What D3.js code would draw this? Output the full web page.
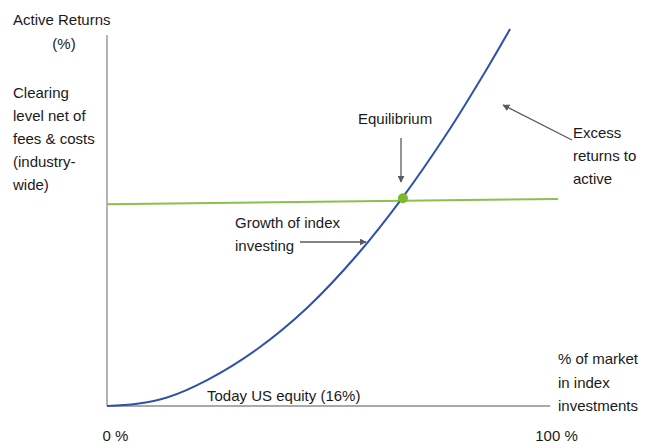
<!DOCTYPE html>
<html><head><meta charset="utf-8">
<script src="https://cdn.jsdelivr.net/npm/d3@7"></script>
<style>
html,body{margin:0;padding:0;background:#fff;}
text{font-family:"Liberation Sans",Arial,sans-serif;font-size:15px;fill:#1a1a1a;}
</style></head><body>
<svg id="c" width="654" height="445"></svg>
<script>
// Data
const curveX = [0, 6.8, 13.6, 22.7, 34.0, 45.4, 56.7, 67.1, 77.1, 86.2, 91.4];   // % of market in index investments
const curveY = [0, 0.6, 2.3, 7.0, 15.3, 26.5, 40.7, 56.3, 73.5, 91.0, 101.6];    // active returns (relative)
const clearingX = [0, 102.3];
const clearingY = [54.4, 55.8];
const equilibrium = [67.1, 56.0];
const xTickValues = [0, 100];
const xTickLabels = ["0 %", "100 %"];
const yTitle = ["Active Returns", "(%)"];
const yNote = ["Clearing", "level net of", "fees & costs", "(industry-", "wide)"];
const xTitle = ["% of market", "in index", "investments"];
const excessLabel = ["Excess", "returns to", "active"];
const growthLabel = ["Growth of index", "investing"];
const equilibriumLabel = "Equilibrium";
const todayLabel = "Today US equity (16%)";

const svg = d3.select("#c");
const x = d3.scaleLinear().domain([0, 100]).range([107, 548]);
const y = d3.scaleLinear().domain([0, 100]).range([406, 35]);

const defs = svg.append("defs");
defs.append("marker").attr("id","ah").attr("viewBox","0 0 10 10").attr("refX",9).attr("refY",5)
  .attr("markerWidth",7).attr("markerHeight",7).attr("markerUnits","userSpaceOnUse").attr("orient","auto")
  .append("path").attr("d","M0,0 L10,5 L0,10 z").attr("fill","#5a5a5a");

// axes
svg.append("line").attr("x1", x(0)).attr("x2", x(0)).attr("y1", y(100)).attr("y2", y(0))
  .attr("stroke","#8c8c8c").attr("stroke-width",1.3);
svg.append("line").attr("x1", x(0)).attr("x2", x(100.5)).attr("y1", y(0)).attr("y2", y(0))
  .attr("stroke","#8c8c8c").attr("stroke-width",1.3);

// tick labels
const xAxis = d3.axisBottom(x).tickValues(xTickValues).tickSize(0).tickFormat((d,i)=>xTickLabels[i]);
const gx = svg.append("g").attr("transform",`translate(0,${y(0)})`).call(xAxis);
gx.select(".domain").remove();
gx.selectAll("text").attr("dy",null).attr("y",35).attr("dx",8)
  .style("font-family","Liberation Sans, Arial, sans-serif").style("font-size","15px").attr("fill","#1a1a1a");

// clearing line
const line = d3.line().x(d=>x(d[0])).y(d=>y(d[1]));
svg.append("path").attr("d", line(d3.zip(clearingX, clearingY)))
  .attr("fill","none").attr("stroke","#8cbf4e").attr("stroke-width",2);

// curve
const curve = d3.line().x(d=>x(d[0])).y(d=>y(d[1])).curve(d3.curveCatmullRom.alpha(0.5));
svg.append("path").attr("d", curve(d3.zip(curveX, curveY)))
  .attr("fill","none").attr("stroke","#2d52ad").attr("stroke-width",2);

// equilibrium dot
svg.append("circle").attr("cx", x(equilibrium[0])).attr("cy", y(equilibrium[1])).attr("r",5)
  .attr("fill","#7cb82a");

// text blocks
function block(lines, xx, y0, dy, anchor){
  const t = svg.append("text").attr("text-anchor", anchor||"start");
  lines.forEach((s,i)=>t.append("tspan").attr("x",xx).attr("y",y0+i*dy).text(s));
}
block([yTitle[0]], 13, 25, 23);
block([yTitle[1]], 64, 49, 23, "middle");
block(yNote, 13, 98, 23);
block(xTitle, 558, 364, 23.5);
block(excessLabel, 573, 138, 23);
block(growthLabel, 235, 228, 22.5);
block([equilibriumLabel], 358, 124, 23);
block([todayLabel], 207, 401, 23);

// arrows
function arrow(x1,y1,x2,y2){
  svg.append("line").attr("x1",x1).attr("y1",y1).attr("x2",x2).attr("y2",y2)
    .attr("stroke","#5a5a5a").attr("stroke-width",1.3).attr("marker-end","url(#ah)");
}
arrow(401, 138, 401, 182);
arrow(572, 140, 503, 105);
arrow(300, 242, 366, 242);
</script>
</body></html>
